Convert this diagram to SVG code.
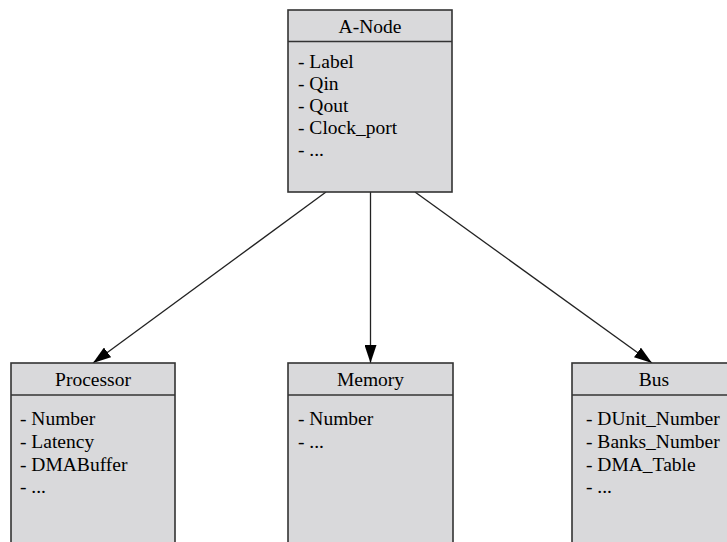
<svg xmlns="http://www.w3.org/2000/svg" width="727" height="542" viewBox="0 0 727 542">
<style>
.box{fill:#d9d9db;stroke:#333;stroke-width:1.6}
.sep{stroke:#333;stroke-width:1.6}
text{font-family:'Liberation Serif','DejaVu Serif',serif;font-size:19.5px;fill:#000}
.t{text-anchor:middle}
.edge{stroke:#222;stroke-width:1.3;fill:none;marker-end:url(#ah)}
</style>
<defs>
<marker id="ah" viewBox="0 0 18 12" refX="18" refY="6" markerWidth="18" markerHeight="12" markerUnits="userSpaceOnUse" orient="auto">
<path d="M0,0 L18,6 L0,12 Z" fill="#000"/>
</marker>
</defs>
<rect width="727" height="542" fill="#fff"/>
<g id="connectors">
<line class="edge" x1="326" y1="192" x2="93" y2="363"/>
<line class="edge" x1="370.5" y1="192" x2="370.5" y2="363"/>
<line class="edge" x1="415" y1="192" x2="652" y2="363"/>
</g>
<g font-family="Liberation Serif, DejaVu Serif, serif">
<g id="anode">
<rect class="box" x="288" y="10" width="164" height="182"/>
<line class="sep" x1="288" y1="41.5" x2="452" y2="41.5"/>
<text class="t" x="370" y="33">A-Node</text>
<text x="298" y="68">- Label</text>
<text x="298" y="90">- Qin</text>
<text x="298" y="112">- Qout</text>
<text x="298" y="134">- Clock_port</text>
<text x="298" y="156">- ...</text>
</g>
<g id="processor">
<rect class="box" x="11" y="363" width="164" height="200"/>
<line class="sep" x1="11" y1="395" x2="175" y2="395"/>
<text class="t" x="93" y="386">Processor</text>
<text x="20" y="425">- Number</text>
<text x="20" y="448">- Latency</text>
<text x="20" y="470.5">- DMABuffer</text>
<text x="20" y="493">- ...</text>
</g>
<g id="memory">
<rect class="box" x="288" y="363" width="165" height="200"/>
<line class="sep" x1="288" y1="395" x2="453" y2="395"/>
<text class="t" x="370.5" y="386">Memory</text>
<text x="298" y="425">- Number</text>
<text x="298" y="448">- ...</text>
</g>
<g id="bus">
<rect class="box" x="572" y="363" width="164" height="200"/>
<line class="sep" x1="572" y1="395" x2="736" y2="395"/>
<text class="t" x="654" y="386">Bus</text>
<text x="586" y="425">- DUnit_Number</text>
<text x="586" y="448">- Banks_Number</text>
<text x="586" y="470.5">- DMA_Table</text>
<text x="586" y="493">- ...</text>
</g>
</g>
</svg>
